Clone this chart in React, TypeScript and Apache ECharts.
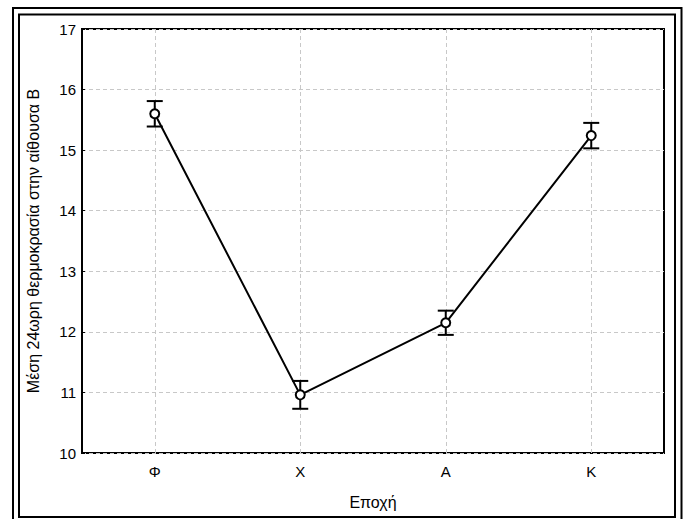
import React, { useEffect, useRef } from "react";
import * as echarts from "echarts";

const categories = ["Φ", "Χ", "Α", "Κ"];
const means = [15.6, 10.96, 12.15, 15.24];
const lowerBounds = [15.39, 10.73, 11.95, 15.03];
const upperBounds = [15.81, 11.19, 12.35, 15.45];
const yMin = 10;
const yMax = 17;
const yInterval = 1;
const xAxisTitle = "Εποχή";
const yAxisTitle = "Μέση 24ωρη θερμοκρασία στην αίθουσα Β";

const FONT = "'Liberation Sans', Arial, sans-serif";

export default function App() {
  const ref = useRef<HTMLDivElement>(null);
  useEffect(() => {
    if (!ref.current) return;
    const chart = echarts.init(ref.current, undefined, { renderer: "svg" });
    const errData = categories.map((_, i) => [i, lowerBounds[i], upperBounds[i]]);
    chart.setOption({
      animation: false,
      backgroundColor: "#fff",
      textStyle: { fontFamily: FONT, color: "#000" },
      grid: {
        left: 82,
        top: 29,
        right: 22,
        bottom: 66,
        show: true,
        borderColor: "#000",
        borderWidth: 2,
        backgroundColor: "transparent",
      },
      xAxis: [
        {
          type: "category",
          data: categories,
          boundaryGap: true,
          name: xAxisTitle,
          nameLocation: "middle",
          nameGap: 41,
          nameTextStyle: { fontSize: 16, color: "#000", fontFamily: FONT },
          axisLine: { show: false },
          axisTick: { show: true, inside: true, length: 3, alignWithLabel: true, lineStyle: { color: "#000", width: 1 } },
          axisLabel: { fontSize: 15, color: "#000", margin: 11, fontFamily: FONT },
          splitLine: { show: false },
        },
        {
          type: "category",
          data: categories,
          position: "top",
          boundaryGap: true,
          axisLine: { show: false },
          axisTick: { show: true, inside: true, length: 3, alignWithLabel: true, lineStyle: { color: "#000", width: 1 } },
          axisLabel: { show: false },
          splitLine: { show: false },
        },
      ],
      yAxis: {
        type: "value",
        min: yMin,
        max: yMax,
        interval: yInterval,
        name: yAxisTitle,
        nameLocation: "middle",
        nameGap: 41,
        nameTextStyle: { fontSize: 16, color: "#000", fontFamily: FONT },
        axisLine: { show: false },
        axisTick: { show: true, inside: true, length: 3, lineStyle: { color: "#000", width: 1 } },
        axisLabel: { fontSize: 15, color: "#000", margin: 6, fontFamily: FONT },
        splitLine: { show: true, lineStyle: { color: "#c8c8c8", type: [4, 3], width: 1 } },
      },
      graphic: [
        {
          type: "rect",
          shape: { x: 13, y: 8, width: 668.5, height: 600 },
          style: { fill: "none", stroke: "#000", lineWidth: 2 },
          silent: true,
          z: 100,
        },
        {
          type: "rect",
          shape: { x: 19, y: 14.5, width: 656, height: 502.5 },
          style: { fill: "none", stroke: "#000", lineWidth: 2 },
          silent: true,
          z: 100,
        },
      ],
      series: [
        {
          type: "custom",
          xAxisIndex: 0,
          data: errData,
          encode: { x: 0, y: [1, 2] },
          z: 3,
          renderItem: (params: any, api: any) => {
            const x = api.value(0);
            const lo = api.coord([x, api.value(1)]);
            const hi = api.coord([x, api.value(2)]);
            const w = 8;
            const st = { stroke: "#000", lineWidth: 2 };
            return {
              type: "group",
              children: [
                { type: "line", shape: { x1: lo[0], y1: lo[1], x2: hi[0], y2: hi[1] }, style: st },
                { type: "line", shape: { x1: lo[0] - w, y1: lo[1], x2: lo[0] + w, y2: lo[1] }, style: st },
                { type: "line", shape: { x1: hi[0] - w, y1: hi[1], x2: hi[0] + w, y2: hi[1] }, style: st },
              ],
            };
          },
        },
        {
          type: "line",
          xAxisIndex: 0,
          data: means,
          z: 5,
          symbol: "circle",
          symbolSize: 9,
          showAllSymbol: true,
          lineStyle: { color: "#000", width: 2 },
          itemStyle: { color: "#fff", borderColor: "#000", borderWidth: 2 },
          markLine: {
            silent: true,
            symbol: ["none", "none"],
            label: { show: false },
            z: 1,
            lineStyle: { color: "#c8c8c8", type: [4, 3], width: 1 },
            data: categories.map((c) => ({ xAxis: c })),
          },
        },
      ],
    });
    return () => chart.dispose();
  }, []);
  return (
    <div
      ref={ref}
      style={{ position: "absolute", left: 0, top: 0, width: 686, height: 519 }}
    />
  );
}
